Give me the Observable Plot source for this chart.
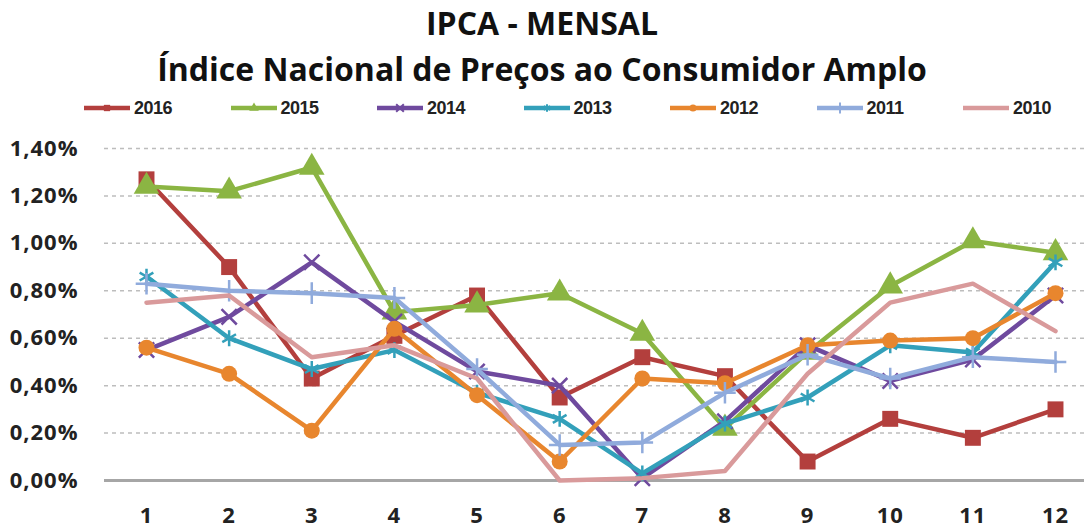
<!DOCTYPE html>
<html>
<head>
<meta charset="utf-8">
<script src="https://cdn.jsdelivr.net/npm/d3@7"></script>
<script src="https://cdn.jsdelivr.net/npm/@observablehq/plot@0.6"></script>
<style>
  html, body { margin: 0; padding: 0; background: #fff; }
  #wrap { width: 1084px; height: 528px; position: relative; overflow: hidden; font-family: "Open Sans", Lato, sans-serif; }
  #title { position: absolute; left: 0; top: 0; width: 1084px; text-align: center; font-weight: bold; color: #111; font-size: 32px; line-height: 46px; }
  #title div { white-space: nowrap; }
  #legend { position: absolute; left: 0; top: 94px; width: 1084px; height: 28px; }
  .item { position: absolute; top: 0; height: 28px; display: flex; align-items: center; }
  .item span { font-family: "Liberation Sans Narrow", "Liberation Sans", Arial, sans-serif; font-stretch: condensed; font-weight: bold; font-size: 18px; color: #222; margin-left: 3px; letter-spacing: -0.5px; }
  #chart { position: absolute; left: 0; top: 130px; }
</style>
</head>
<body>
<div id="wrap">
  <div id="title"><div>IPCA - MENSAL</div><div>Índice Nacional de Preços ao Consumidor Amplo</div></div>
  <div id="legend"></div>
  <div id="chart"></div>
</div>
<script>
// ---- data ----
const months = [1, 2, 3, 4, 5, 6, 7, 8, 9, 10, 11, 12];
const years = ["2016", "2015", "2014", "2013", "2012", "2011", "2010"];
const v2016 = [1.27, 0.90, 0.43, 0.61, 0.78, 0.35, 0.52, 0.44, 0.08, 0.26, 0.18, 0.30];
const v2015 = [1.24, 1.22, 1.32, 0.71, 0.74, 0.79, 0.62, 0.22, 0.54, 0.82, 1.01, 0.96];
const v2014 = [0.55, 0.69, 0.92, 0.67, 0.46, 0.40, 0.01, 0.25, 0.57, 0.42, 0.51, 0.78];
const v2013 = [0.86, 0.60, 0.47, 0.55, 0.37, 0.26, 0.03, 0.24, 0.35, 0.57, 0.54, 0.92];
const v2012 = [0.56, 0.45, 0.21, 0.64, 0.36, 0.08, 0.43, 0.41, 0.57, 0.59, 0.60, 0.79];
const v2011 = [0.83, 0.80, 0.79, 0.77, 0.47, 0.15, 0.16, 0.37, 0.53, 0.43, 0.52, 0.50];
const v2010 = [0.75, 0.78, 0.52, 0.57, 0.43, 0.00, 0.01, 0.04, 0.45, 0.75, 0.83, 0.63];
const yTicks = [0, 0.2, 0.4, 0.6, 0.8, 1.0, 1.2, 1.4];

const seriesValues = {"2016": v2016, "2015": v2015, "2014": v2014, "2013": v2013, "2012": v2012, "2011": v2011, "2010": v2010};
const colors = {"2016": "#b33f3d", "2015": "#8bb543", "2014": "#6f4a9e", "2013": "#33a0ba", "2012": "#e8862e", "2011": "#90abdc", "2010": "#d99a9b"};
const symbols = {"2016": "square", "2015": "triangle", "2014": "times", "2013": "asterisk", "2012": "circle", "2011": "plus", "2010": null};
const filled = {square: true, triangle: true, circle: true};
const sizes = {square: 9, triangle: 9.5, circle: 8, times: 7, asterisk: 7.5, plus: 7};

const rows = [];
for (const y of years) seriesValues[y].forEach((v, i) => rows.push({year: y, month: months[i], value: v}));

// ---- legend ----
const legend = document.getElementById("legend");
years.forEach((y, i) => {
  const item = document.createElement("div");
  item.className = "item";
  item.style.left = (83 + i * 146.5) + "px";
  const svg = d3.create("svg").attr("width", 48).attr("height", 20);
  svg.append("line").attr("x1", 1).attr("x2", 47).attr("y1", 10).attr("y2", 10)
    .attr("stroke", colors[y]).attr("stroke-width", 4.5);
  const s = symbols[y];
  if (s) {
    const symMap = {square: d3.symbolSquare, triangle: d3.symbolTriangle, times: d3.symbolTimes, asterisk: d3.symbolAsterisk, circle: d3.symbolCircle, plus: d3.symbolPlus};
    const p = svg.append("path").attr("transform", "translate(24,10)")
      .attr("d", d3.symbol(symMap[s], 40)());
    if (filled[s]) p.attr("fill", colors[y]); else p.attr("fill", "none").attr("stroke", colors[y]).attr("stroke-width", 2);
  }
  item.appendChild(svg.node());
  const t = document.createElement("span");
  t.textContent = y;
  item.appendChild(t);
  legend.appendChild(item);
});

// ---- chart ----
const marks = [
  Plot.gridY(yTicks.filter(d => d > 0), {stroke: "#bdbdbd", strokeOpacity: 1, strokeDasharray: "4,4", strokeWidth: 1.5}),
  Plot.ruleY([0], {stroke: "#a6a6a6", strokeWidth: 3})
];
for (const y of years) {
  const data = rows.filter(r => r.year === y);
  marks.push(Plot.line(data, {x: "month", y: "value", stroke: colors[y], strokeWidth: 4.5, strokeLinejoin: "round"}));
  const s = symbols[y];
  if (s) {
    if (filled[s]) {
      marks.push(Plot.dot(data, {x: "month", y: "value", symbol: () => s, r: sizes[s], fill: colors[y], stroke: "none"}));
    } else {
      marks.push(Plot.dot(data, {x: "month", y: "value", symbol: () => s, r: sizes[s], fill: "none", stroke: colors[y], strokeWidth: 2.5}));
    }
  }
}

const chart = Plot.plot({
  width: 1084,
  height: 398,
  marginLeft: 104,
  marginRight: 0,
  marginTop: 18,
  marginBottom: 48,
  style: "font-family: 'Open Sans', Lato, sans-serif; font-size: 22px; font-weight: bold; color: #222; background: white; letter-spacing: 1px;",
  x: {type: "linear", domain: [1, 12], range: [146, 1055], ticks: months, tickFormat: d => String(d), tickSize: 0, tickPadding: 27, label: null},
  y: {domain: [0, 1.4], ticks: yTicks, tickFormat: d => d.toFixed(2).replace(".", ",") + "%", tickSize: 0, tickPadding: 26, label: null},
  symbol: {type: "identity"},
  marks
});
document.getElementById("chart").appendChild(chart);
</script>
</body>
</html>
